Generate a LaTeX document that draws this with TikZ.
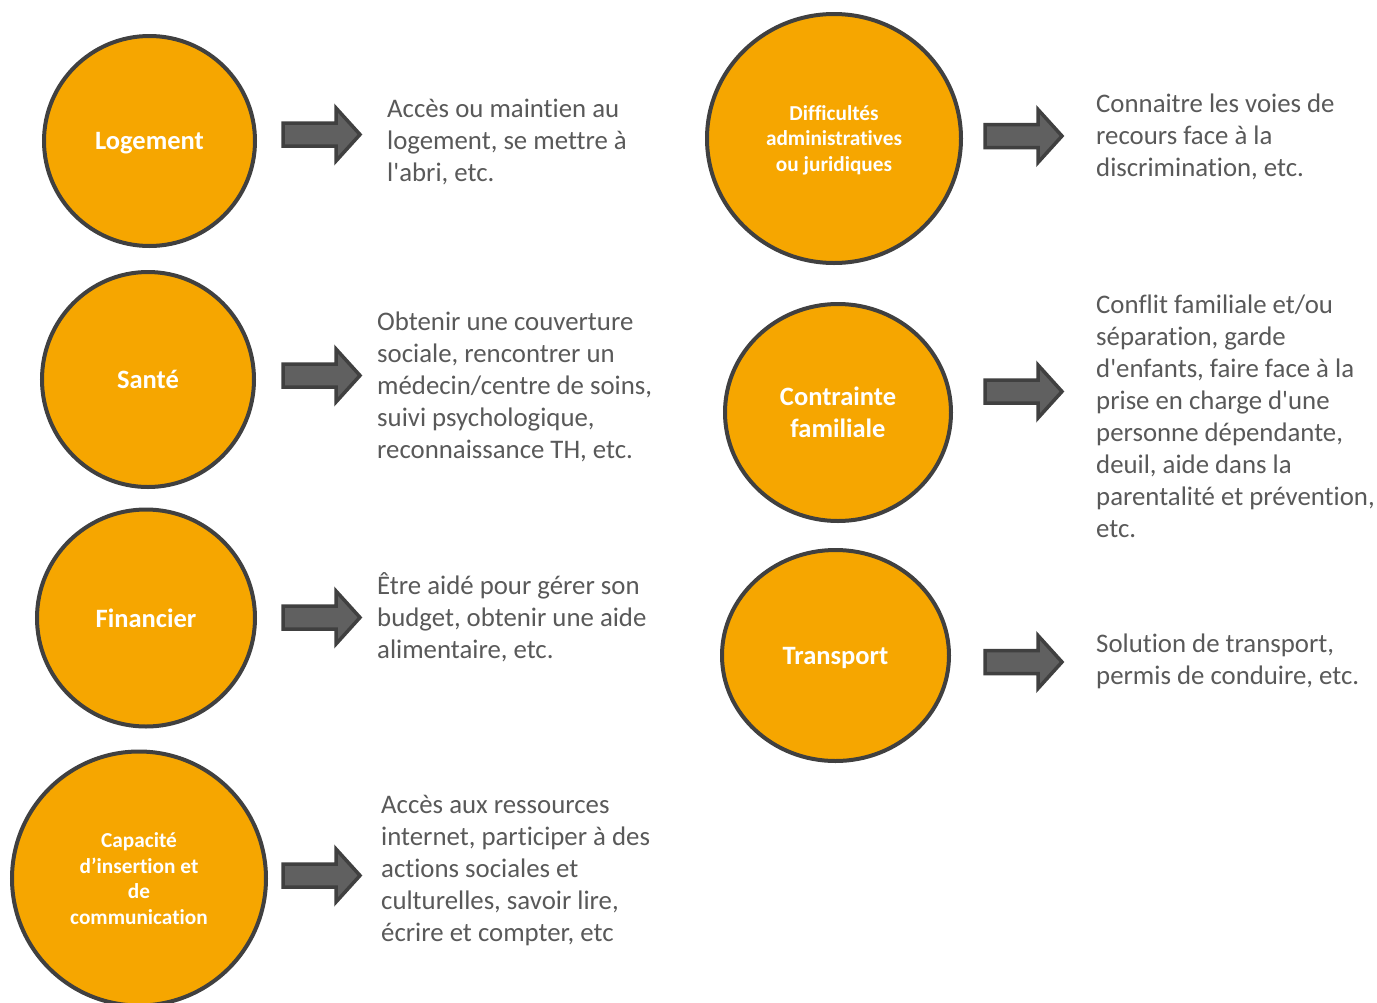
\documentclass[tikz,border=0pt]{standalone}
\usepackage{fontspec}
\setmainfont{Carlito}[Ligatures={TeXOff,NoCommon}]
\usetikzlibrary{shapes.geometric}
\definecolor{orangefill}{RGB}{246,166,0}
\definecolor{darkborder}{RGB}{64,64,64}
\definecolor{arrowfill}{RGB}{96,96,96}
\definecolor{bodytext}{RGB}{89,89,89}
\tikzset{
  bubble/.style={ellipse, draw=darkborder, line width=4pt, fill=orangefill,
    text=white, font=\bfseries, align=center, inner sep=0pt},
  bigtxt/.style={font=\bfseries\fontsize{26.5}{32}\selectfont},
  smalltxt/.style={font=\bfseries\fontsize{21.3}{25.5}\selectfont},
  blockarrowsty/.style={draw=darkborder, fill=arrowfill, line width=3.5pt, line join=miter},
  desc/.style={anchor=base west, inner sep=0pt, text=bodytext}
}
\newcommand{\desctext}[1]{\parbox[t]{330pt}{\raggedright\fontsize{26.8}{32}\selectfont #1}}
\newcommand{\blockarrow}[2]{%
  \begin{scope}[shift={(#1,#2)}]
    \draw[blockarrowsty] (0,-11.5) -- (53,-11.5) -- (53,-26.5) -- (77,0) -- (53,26.5) -- (53,11.5) -- (0,11.5) -- cycle;
  \end{scope}}
\begin{document}
\begin{tikzpicture}[x=1pt,y=-1pt]
\useasboundingbox (0,0) rectangle (1377,1002);
\clip (0,0) rectangle (1377,1002);
\fill[white] (0,0) rectangle (1377,1002);

% circles
\node[bubble, bigtxt, text depth=0pt, minimum width=211pt, minimum height=210pt] (logement) at (149.5,141) {Logement};
\node[bubble, bigtxt, minimum width=212pt, minimum height=215pt] (sante) at (148,379.5) {Santé};
\node[bubble, bigtxt, minimum width=218pt, minimum height=217pt] (financier) at (146,618) {Financier};
\node[bubble, smalltxt, minimum width=254pt, minimum height=254pt] (capacite) at (139,878.5) {Capacité\\d’insertion et\\de\\communication};
\node[bubble, smalltxt, text depth=0pt, minimum width=254pt, minimum height=249pt] (difficultes) at (834,138.5) {Difficultés\\administratives\\ou juridiques};
\node[bubble, bigtxt, minimum width=226pt, minimum height=217pt] (contrainte) at (838,412.5) {Contrainte\\familiale};
\node[bubble, bigtxt, text depth=0pt, minimum width=227pt, minimum height=211pt] (transport) at (835.5,655.5) {Transport};

% arrows
\blockarrow{283}{134.5}
\blockarrow{283}{375.5}
\blockarrow{283}{617.5}
\blockarrow{283}{875.5}
\blockarrow{985}{136}
\blockarrow{985}{391.5}
\blockarrow{985}{662}

% descriptions
\node[desc] (t1) at (387,117) {\desctext{Accès ou maintien au\\logement, se mettre à\\l'abri, etc.}};
\node[desc] (t2) at (377,330) {\desctext{Obtenir une couverture\\sociale, rencontrer un\\médecin/centre de soins,\\suivi psychologique,\\reconnaissance TH, etc.}};
\node[desc] (t3) at (377,594) {\desctext{Être aidé pour gérer son\\budget, obtenir une aide\\alimentaire, etc.}};
\node[desc] (t4) at (381,813) {\desctext{Accès aux ressources\\internet, participer à des\\actions sociales et\\culturelles, savoir lire,\\écrire et compter, etc}};
\node[desc] (r1) at (1096,112) {\desctext{Connaitre les voies de\\recours face à la\\discrimination, etc.}};
\node[desc] (r2) at (1096,313) {\desctext{Conflit familiale et/ou\\séparation, garde\\d'enfants, faire face à la\\prise en charge d'une\\personne dépendante,\\deuil, aide dans la\\parentalité et prévention,\\etc.}};
\node[desc] (r3) at (1096,652) {\desctext{Solution de transport,\\permis de conduire, etc.}};
\end{tikzpicture}
\end{document}
